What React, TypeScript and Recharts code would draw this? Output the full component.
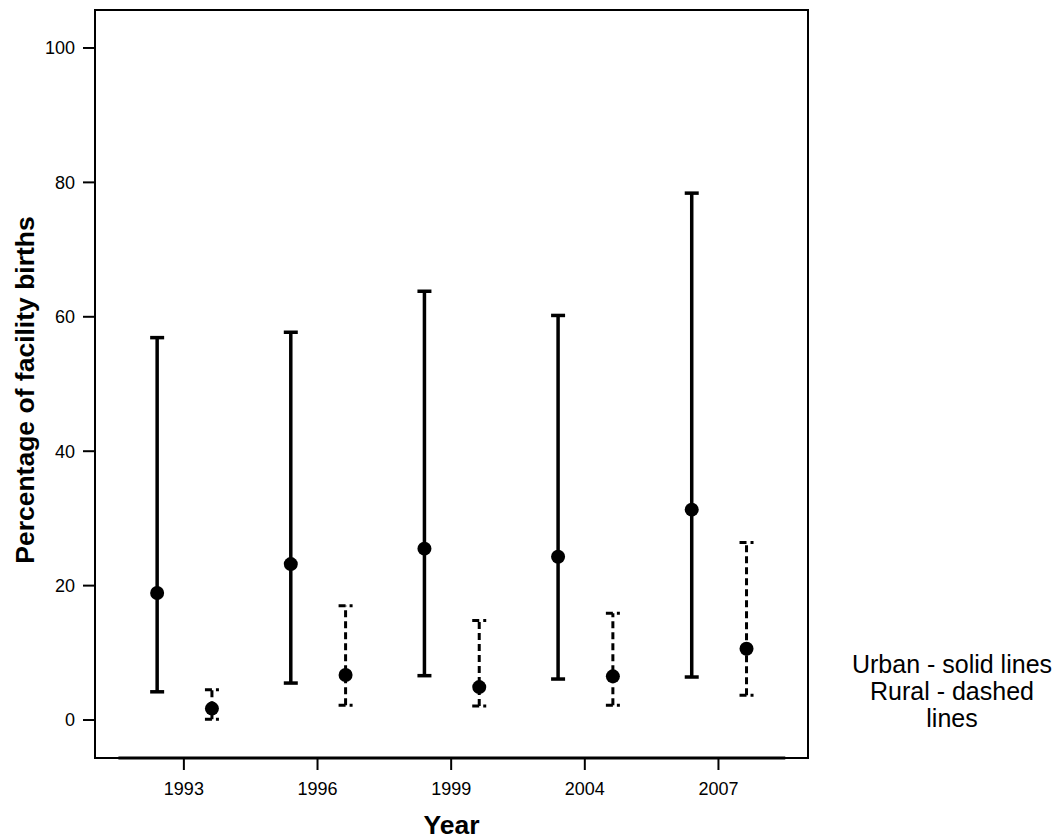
import {
	ComposedChart,
	ErrorBar,
	Label,
	ReferenceArea,
	ReferenceLine,
	Scatter,
	XAxis,
	YAxis,
} from "recharts";

const years = ["1993", "1996", "1999", "2004", "2007"];

const urbanMean = [18.9, 23.2, 25.5, 24.3, 31.3];
const urbanLow = [4.2, 5.5, 6.6, 6.1, 6.4];
const urbanHigh = [56.9, 57.7, 63.8, 60.2, 78.4];

const ruralMean = [1.7, 6.7, 4.9, 6.5, 10.6];
const ruralLow = [0.1, 2.2, 2.1, 2.2, 3.7];
const ruralHigh = [4.5, 17.0, 14.8, 15.9, 26.4];

const yTicks = [0, 20, 40, 60, 80, 100];

const X_MIN = -0.665;
const X_MAX = 4.67;
const Y_MIN = -5.65;
const Y_MAX = 105.65;

const FONT = "Arial, 'Liberation Sans', sans-serif";

const buildRows = (mean: number[], low: number[], high: number[], shift: number) =>
	mean.map((m, i) => ({
		x: i + shift,
		y: m,
		err: [m - low[i], high[i] - m],
	}));

const urbanRows = buildRows(urbanMean, urbanLow, urbanHigh, -0.2);
const ruralRows = buildRows(ruralMean, ruralLow, ruralHigh, 0.21);

const Dot = (props: any) => <circle cx={props.cx} cy={props.cy} r={7} fill="#000" />;

export default function App() {
	return (
		<div
			style={{
				position: "absolute",
				left: 0,
				top: 0,
				width: 1058,
				height: 839,
				background: "#fff",
				fontFamily: FONT,
			}}
		>
			<ComposedChart
				width={1058}
				height={839}
				margin={{ top: 10, right: 250, bottom: 0, left: 0 }}
			>
				<XAxis
					type="number"
					dataKey="x"
					domain={[X_MIN, X_MAX]}
					ticks={[0, 1, 2, 3, 4]}
					interval={0}
					tickFormatter={(v) => years[v] ?? ""}
					height={81}
					axisLine={false}
					tickLine={{ stroke: "#000", strokeWidth: 2 }}
					tickSize={12}
					tickMargin={12}
					tick={{ fill: "#000", fontSize: 18, fontFamily: FONT }}
				>
					<Label
						content={({ viewBox }: any) => (
							<text
								x={viewBox.x + viewBox.width / 2}
								y={825}
								textAnchor="middle"
								dominantBaseline="central"
								fontSize={26.5}
								fontWeight="bold"
								fontFamily={FONT}
								fill="#000"
							>
								Year
							</text>
						)}
					/>
				</XAxis>
				<YAxis
					type="number"
					dataKey="y"
					domain={[Y_MIN, Y_MAX]}
					ticks={yTicks}
					width={95}
					axisLine={false}
					tickLine={{ stroke: "#000", strokeWidth: 2 }}
					tickSize={12}
					tickMargin={8}
					tick={{ fill: "#000", fontSize: 18, fontFamily: FONT }}
				>
					<Label
						content={() => (
							<text
								transform="translate(25, 390) rotate(-90)"
								textAnchor="middle"
								dominantBaseline="central"
								fontSize={26.5}
								fontWeight="bold"
								fontFamily={FONT}
								fill="#000"
							>
								Percentage of facility births
							</text>
						)}
					/>
				</YAxis>
				<ReferenceArea
					x1={X_MIN}
					x2={X_MAX}
					y1={Y_MIN}
					y2={Y_MAX}
					fill="none"
					stroke="#000"
					strokeWidth={2}
					ifOverflow="visible"
				/>
				<ReferenceLine
					segment={[
						{ x: -0.49, y: Y_MIN },
						{ x: 4.5, y: Y_MIN },
					]}
					stroke="#000"
					strokeWidth={3}
					ifOverflow="visible"
				/>
				<Scatter data={urbanRows} shape={Dot} isAnimationActive={false}>
					<ErrorBar
						dataKey="err"
						direction="y"
						width={7}
						stroke="#000"
						strokeWidth={3.5}
						isAnimationActive={false}
					/>
				</Scatter>
				<Scatter data={ruralRows} shape={Dot} isAnimationActive={false}>
					<ErrorBar
						dataKey="err"
						direction="y"
						width={7}
						stroke="#000"
						strokeWidth={3}
						strokeDasharray="7 4"
						isAnimationActive={false}
					/>
				</Scatter>
			</ComposedChart>
			<div
				style={{
					position: "absolute",
					left: 842,
					top: 651,
					width: 220,
					textAlign: "center",
					fontSize: 25,
					lineHeight: "27px",
					color: "#000",
				}}
			>
				Urban - solid lines
				<br />
				Rural - dashed
				<br />
				lines
			</div>
		</div>
	);
}
